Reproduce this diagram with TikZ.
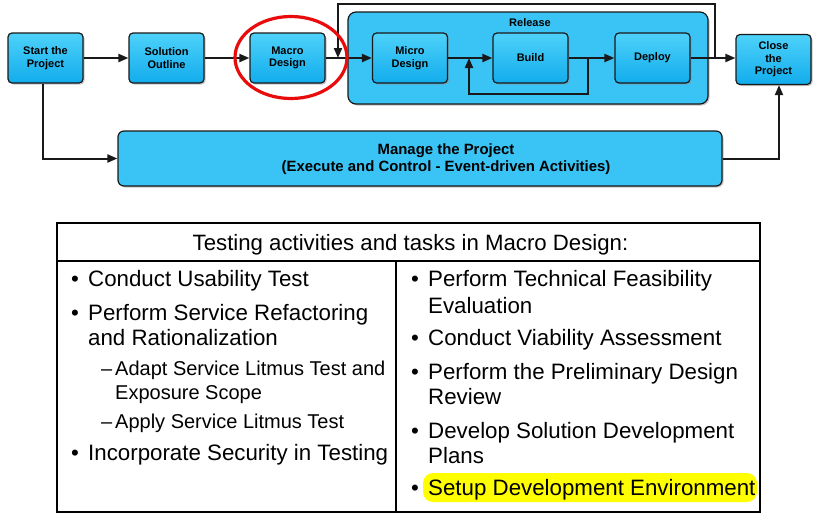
\documentclass[tikz,border=0pt]{standalone}
\usepackage{fontspec}
\setmainfont{Liberation Sans}
\usetikzlibrary{arrows.meta,shadows,shapes.geometric}
\definecolor{boxtop}{RGB}{78,210,250}
\definecolor{boxbot}{RGB}{18,172,236}
\definecolor{relfill}{RGB}{58,196,246}
\definecolor{edgecol}{RGB}{25,25,25}
\definecolor{ringred}{RGB}{232,12,12}
\definecolor{hl}{RGB}{255,255,0}
\begin{document}
\begin{tikzpicture}[x=1pt,y=-1pt,
  stepbox/.style={draw=edgecol, line width=1.2pt, rounded corners=4pt,
    top color=boxtop, bottom color=boxbot, minimum width=75pt, minimum height=50pt,
    align=center, inner sep=1pt, font=\bfseries\fontsize{11}{12.5}\selectfont,
    drop shadow={shadow xshift=1.5pt,shadow yshift=-1.5pt,fill=black!45}},
  groupbox/.style={draw=edgecol, line width=1.2pt, fill=relfill,
    drop shadow={shadow xshift=1.5pt,shadow yshift=-1.5pt,fill=black!45}},
  flow/.style={draw=edgecol, line width=2pt, -{Triangle[length=10pt,width=8pt]}},
  body/.style={anchor=base west, inner sep=0pt, font=\fontsize{22.3}{25}\selectfont},
  subbody/.style={anchor=base west, inner sep=0pt, font=\fontsize{20}{23}\selectfont},
]
\useasboundingbox (0,0) rectangle (815,515);
\fill[white] (0,0) rectangle (815,515);

% release container
\node[groupbox, rounded corners=8pt, minimum width=360pt, minimum height=92pt] (release) at (528,58) {};
\node[font=\bfseries\fontsize{11}{12.5}\selectfont, inner sep=0pt] (reltitle) at (530,23) {Release};

% manage box
\node[groupbox, rounded corners=6pt, minimum width=604pt, minimum height=55pt] (manage) at (420,158.5) {};
\node[align=center, inner sep=0pt, font=\bfseries\fontsize{14.9}{17}\selectfont] (managetext) at (446,159.5)
  {Manage the Project\\(Execute and Control - Event-driven Activities)};

% step boxes
\node[stepbox] (start) at (45.5,58) {Start the\\Project};
\node[stepbox] (sol) at (166.5,58) {Solution\\Outline};
\node[stepbox] (macro) at (287.5,58) {Macro\\Design};
\node[stepbox] (micro) at (410,58) {Micro\\Design};
\node[stepbox] (build) at (530.5,58) {Build};
\node[stepbox] (deploy) at (652.5,58) {Deploy};
\node[stepbox] (close) at (773.5,59.5) {Close\\the\\Project};

% junction coordinates
\coordinate (tl) at (715,58);
\coordinate (trt) at (715,4);
\coordinate (tlt) at (338,4);
\coordinate (tm) at (338,58);
\coordinate (b1) at (588,58);
\coordinate (b2) at (588,94);
\coordinate (b3) at (469,94);
\coordinate (b4) at (469,58);

% connectors
\draw[flow] (start) -- (sol);
\draw[flow] (sol) -- (macro);
\draw[flow] (macro) -- (micro);
\draw[flow] (micro) -- (build);
\draw[flow] (build) -- (deploy);
\draw[flow] (deploy.east) -- (close.west |- deploy.east);
\draw[flow] (tl) -- (trt) -- (tlt) -- (tm);
\draw[flow] (b1) -- (b2) -- (b3) -- (b4);
\draw[flow] ([xshift=-2.5pt]start.south) |- (manage.west);
\draw[flow] (manage.east) -| ([xshift=5.5pt]close.south);

% red ring
\node[draw=ringred, line width=3.2pt, ellipse, minimum width=112pt, minimum height=82pt] (ring) at (291,57.5) {};

% table
\draw[line width=1.2pt] (57,223) rectangle (760,512);
\draw[line width=1.2pt] (57,261) -- (760,261);
\draw[line width=2pt] (396,261) -- (396,512);
\node[anchor=base, inner sep=0pt, font=\fontsize{22.2}{25}\selectfont] (hdr) at (410.5,250)
  {Testing activities and tasks in Macro Design:};

% highlight
\fill[hl, rounded corners=10pt] (423,473) rectangle (757,502);

% left column
\node[body] (l1b) at (71,286) {•};
\node[body] (l1) at (88,286) {Conduct Usability Test};
\node[body] (l2b) at (71,320) {•};
\node[body] (l2) at (88,320) {Perform Service Refactoring};
\node[body] (l2c) at (88,345) {and Rationalization};
\node[subbody] (l3b) at (101,375) {–};
\node[subbody] (l3) at (115,375) {Adapt Service Litmus Test and};
\node[subbody] (l3c) at (115,399) {Exposure Scope};
\node[subbody] (l4b) at (101,428) {–};
\node[subbody] (l4) at (115,428) {Apply Service Litmus Test};
\node[body] (l5b) at (71,460) {•};
\node[body] (l5) at (88,460) {Incorporate Security in Testing};

% right column
\node[body] (r1b) at (411,286) {•};
\node[body] (r1) at (428,286) {Perform Technical Feasibility};
\node[body] (r1c) at (428,313) {Evaluation};
\node[body] (r2b) at (411,345) {•};
\node[body] (r2) at (428,345) {Conduct Viability Assessment};
\node[body] (r3b) at (411,379) {•};
\node[body] (r3) at (428,379) {Perform the Preliminary Design};
\node[body] (r3c) at (428,404) {Review};
\node[body] (r4b) at (411,438) {•};
\node[body] (r4) at (428,438) {Develop Solution Development};
\node[body] (r4c) at (428,463) {Plans};
\node[body] (r5b) at (411,495) {•};
\node[body] (r5) at (428,495) {Setup Development Environment};
\end{tikzpicture}
\end{document}
